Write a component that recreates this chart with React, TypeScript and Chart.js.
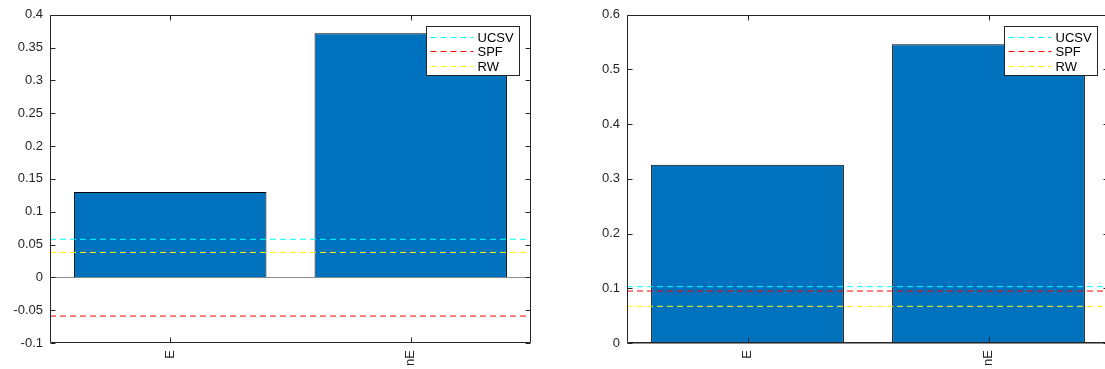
import React, { useEffect, useRef } from 'react';
import { Chart, registerables } from 'chart.js';

Chart.register(...registerables);

const categories = ['E', 'nE'];
const leftBars = [0.13, 0.372];
const rightBars = [0.326, 0.546];
const seriesNames = ['UCSV', 'SPF', 'RW'];
const seriesColors = ['#00FFFF', '#FF0000', '#FFFF00'];
const leftRefs = [0.058, -0.059, 0.038];
const rightRefs = [0.103, 0.095, 0.067];
const leftTicks = [-0.1, -0.05, 0, 0.05, 0.1, 0.15, 0.2, 0.25, 0.3, 0.35, 0.4];
const leftTickLabels = ['-0.1', '-0.05', '0', '0.05', '0.1', '0.15', '0.2', '0.25', '0.3', '0.35', '0.4'];
const rightTicks = [0, 0.1, 0.2, 0.3, 0.4, 0.5, 0.6];
const rightTickLabels = ['0', '0.1', '0.2', '0.3', '0.4', '0.5', '0.6'];

const FONT = '"Liberation Sans", Arial, Helvetica, sans-serif';
const AXIS = '#262626';
const BAR = '#0072BD';

const matlabPlugin = {
  id: 'matlabAxes',
  beforeDatasetsDraw(chart: any) {
    const { ctx, chartArea } = chart;
    const y = chart.scales.y;
    const py = Math.round(y.getPixelForValue(0)) + 0.5;
    ctx.save();
    ctx.strokeStyle = '#8c8c8c';
    ctx.lineWidth = 1;
    ctx.beginPath();
    ctx.moveTo(chartArea.left, py);
    ctx.lineTo(chartArea.right, py);
    ctx.stroke();
    ctx.restore();
  },
  afterDatasetsDraw(chart: any) {
    const { ctx, chartArea } = chart;
    const { left, right, top, bottom } = chartArea;
    const L = Math.round(left) + 0.5;
    const R = Math.round(right) - 0.5;
    const T = Math.round(top) + 0.5;
    const B = Math.round(bottom) - 0.5;
    const tl = 5;
    ctx.save();
    ctx.strokeStyle = AXIS;
    ctx.lineWidth = 1;
    ctx.beginPath();
    ctx.rect(L, T, R - L, B - T);
    ctx.stroke();
    const ys = chart.scales.y;
    ctx.beginPath();
    ys.ticks.forEach((t: any) => {
      const p = Math.round(ys.getPixelForValue(t.value)) + 0.5;
      ctx.moveTo(L, p);
      ctx.lineTo(L + tl, p);
      ctx.moveTo(R, p);
      ctx.lineTo(R - tl, p);
    });
    const xs = chart.scales.x;
    xs.ticks.forEach((t: any, i: number) => {
      const p = Math.round(xs.getPixelForTick(i)) + 0.5;
      ctx.moveTo(p, B);
      ctx.lineTo(p, B - tl);
      ctx.moveTo(p, T);
      ctx.lineTo(p, T + tl);
    });
    ctx.stroke();
    ctx.restore();
  },
  afterDraw(chart: any) {
    const { ctx, chartArea } = chart;
    const w = 93;
    const h = 49;
    const bx = Math.round(chartArea.right) - 12 - w + 0.5;
    const by = Math.round(chartArea.top) + 11 + 0.5;
    ctx.save();
    ctx.fillStyle = '#ffffff';
    ctx.fillRect(bx, by, w, h);
    ctx.strokeStyle = AXIS;
    ctx.lineWidth = 1;
    ctx.strokeRect(bx, by, w, h);
    const lines = chart.data.datasets.filter((d: any) => d.type === 'line');
    ctx.font = `13px ${FONT}`;
    ctx.textBaseline = 'middle';
    ctx.textAlign = 'left';
    lines.forEach((d: any, i: number) => {
      const ry = Math.round(by + 10 + i * 14.5) + 0.5;
      ctx.strokeStyle = d.borderColor;
      ctx.setLineDash([6, 4]);
      ctx.beginPath();
      ctx.moveTo(bx + 4, ry);
      ctx.lineTo(bx + 47, ry);
      ctx.stroke();
      ctx.setLineDash([]);
      ctx.fillStyle = '#000000';
      ctx.fillText(d.label, bx + 51, ry + 0.5);
    });
    ctx.restore();
  },
};

type PanelProps = {
  bars: number[];
  refs: number[];
  ticks: number[];
  tickLabels: string[];
  yMin: number;
  yMax: number;
  axisWidth: number;
  padRight: number;
  left: number;
};

function Panel(props: PanelProps) {
  const ref = useRef<HTMLCanvasElement | null>(null);
  useEffect(() => {
    if (!ref.current) return;
    const { bars, refs, ticks, tickLabels, yMin, yMax, axisWidth, padRight } = props;
    const datasets: any[] = [
      {
        type: 'bar',
        label: 'bars',
        data: bars,
        backgroundColor: BAR,
        borderColor: '#000000',
        borderWidth: 1,
        barPercentage: 0.8,
        categoryPercentage: 1,
        grouped: false,
        xAxisID: 'x',
        order: 2,
      },
      ...seriesNames.map((name, i) => ({
        type: 'line',
        label: name,
        data: [
          { x: 0, y: refs[i] },
          { x: 1, y: refs[i] },
        ],
        borderColor: seriesColors[i],
        borderWidth: 1,
        borderDash: [6, 4],
        pointRadius: 0,
        fill: false,
        xAxisID: 'xl',
        order: 1,
      })),
    ];
    const chart = new Chart(ref.current, {
      type: 'bar',
      data: { labels: categories, datasets },
      options: {
        animation: false,
        responsive: false,
        maintainAspectRatio: false,
        layout: { padding: { top: 11, right: padRight, left: 0, bottom: 0 } },
        plugins: { legend: { display: false }, tooltip: { enabled: false } },
        scales: {
          x: {
            type: 'category',
            offset: true,
            grid: { display: false, drawTicks: false },
            border: { display: false },
            ticks: {
              minRotation: 90,
              maxRotation: 90,
              padding: 7,
              color: AXIS,
              font: { family: FONT, size: 13 },
            },
            afterFit: (s: any) => {
              s.height = 26;
            },
          },
          xl: {
            type: 'linear',
            display: false,
            offset: false,
            grid: { offset: false },
            min: 0,
            max: 1,
          },
          y: {
            type: 'linear',
            min: yMin,
            max: yMax,
            grid: { display: false, drawTicks: false },
            border: { display: false },
            afterBuildTicks: (s: any) => {
              s.ticks = ticks.map((v) => ({ value: v }));
            },
            ticks: {
              padding: 7,
              color: AXIS,
              font: { family: FONT, size: 13 },
              callback: (_v: any, i: number) => tickLabels[i],
            },
            afterFit: (s: any) => {
              s.width = axisWidth;
            },
          },
        },
      } as any,
      plugins: [matlabPlugin],
    });
    return () => chart.destroy();
  }, []);
  return (
    <canvas
      ref={ref}
      width={560}
      height={369}
      style={{ position: 'absolute', left: props.left, top: 0, width: 560, height: 369 }}
    />
  );
}

export default function App() {
  return (
    <div
      style={{
        position: 'fixed',
        left: 0,
        top: 0,
        width: 1105,
        height: 369,
        overflow: 'hidden',
        background: '#ffffff',
      }}
    >
      <Panel
        bars={leftBars}
        refs={leftRefs}
        ticks={leftTicks}
        tickLabels={leftTickLabels}
        yMin={-0.1}
        yMax={0.4}
        axisWidth={50}
        padRight={29}
        left={0}
      />
      <Panel
        bars={rightBars}
        refs={rightRefs}
        ticks={rightTicks}
        tickLabels={rightTickLabels}
        yMin={0}
        yMax={0.6}
        axisWidth={67}
        padRight={11}
        left={560}
      />
    </div>
  );
}
